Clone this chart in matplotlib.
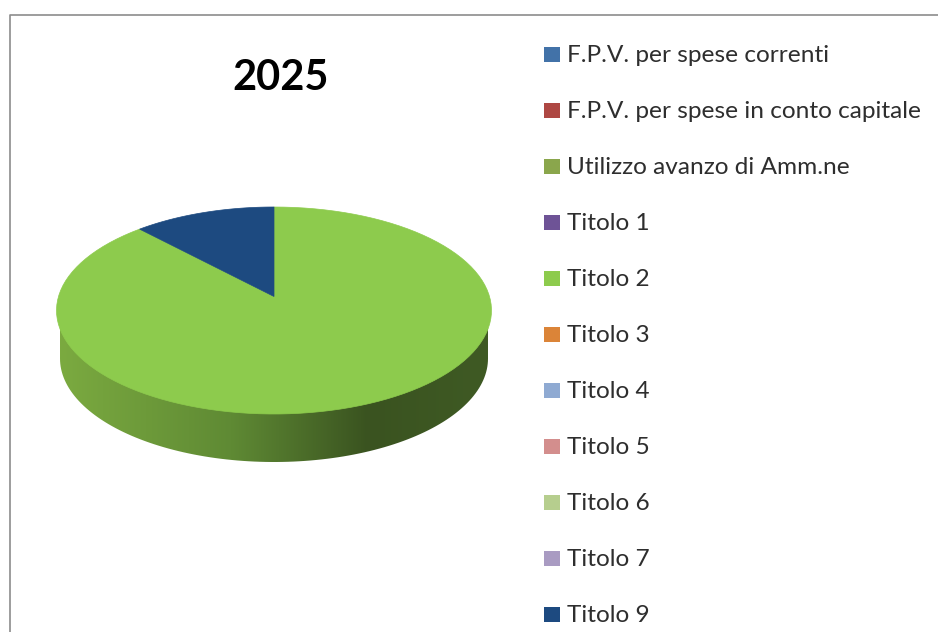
"""Flat recreation of a spreadsheet 3D pie chart, drawn in pixel coordinates."""

import numpy as np
import matplotlib
matplotlib.use("Agg")
import matplotlib.pyplot as plt
from matplotlib.colors import LinearSegmentedColormap
from matplotlib.patches import PathPatch, Polygon, Rectangle
from matplotlib.path import Path

TITLE = "2025"
categories = [
    "F.P.V. per spese correnti",
    "F.P.V. per spese in conto capitale",
    "Utilizzo avanzo di Amm.ne",
    "Titolo 1",
    "Titolo 2",
    "Titolo 3",
    "Titolo 4",
    "Titolo 5",
    "Titolo 6",
    "Titolo 7",
    "Titolo 9",
]
values = [0, 0, 0, 0, 89.4, 0, 0, 0, 0, 0, 10.6]
colors = [
    "#4272A8", "#AE4743", "#8AA64C", "#6E5396", "#8DCB4D", "#DB8438",
    "#8FAAD2", "#D38E8D", "#B6CE8E", "#A99BC2", "#1D4A80",
]

# Pie geometry in image pixels
CX, CY, RX, RY = 274, 310.5, 217.5, 103.5
APEX = (274, 296.5)
BOTTOM_CY, BOTTOM_RX = 358.5, 214


def arc(start, stop, cx=CX, cy=CY, rx=RX, ry=RY, n=120):
    """Points on an ellipse, angles in degrees clockwise from 12 o'clock."""
    t = np.radians(np.linspace(start, stop, n))
    return np.column_stack([cx + rx * np.sin(t), cy - ry * np.cos(t)])


fig = plt.figure(figsize=(9.38, 6.32), dpi=100, facecolor="white")
ax = fig.add_axes([0, 0, 1, 1])

# --- Side wall with left-to-right shading ---
rim = arc(90, 270, cy=BOTTOM_CY, rx=BOTTOM_RX)
top_y = CY + RY * np.sqrt(1 - (BOTTOM_RX / RX) ** 2)
side = np.vstack([[CX + BOTTOM_RX, top_y], rim, [CX - BOTTOM_RX, top_y]])
side_patch = PathPatch(Path(side), facecolor="none", edgecolor="none")
ax.add_patch(side_patch)
shade = LinearSegmentedColormap.from_list(
    "side", [(0, "#7BAA40"), (0.4, "#5F8A34"), (0.72, "#3A5320"), (1, "#3F5A24")]
)
img = ax.imshow(
    np.linspace(0, 1, 256)[None, :], cmap=shade, aspect="auto",
    extent=(CX - BOTTOM_RX, CX + BOTTOM_RX, 480, 300), zorder=1,
)
img.set_clip_path(side_patch)

# --- Top face: slices run clockwise from 12 o'clock ---
start = 0.0
for value, color in zip(values, colors):
    if value == 0:
        continue
    stop = start + 360 * value / sum(values)
    ax.add_patch(Polygon(np.vstack([APEX, arc(start, stop)]), closed=True,
                         facecolor=color, edgecolor=color, linewidth=0.5, zorder=2))
    start = stop

ax.text(281, 78, TITLE, fontsize=30, fontweight="bold", family="Lato",
        color="black", ha="center", va="center")

# --- Legend ---
for i, (label, color) in enumerate(zip(categories, colors)):
    y = 54.5 + 56 * i
    ax.add_patch(Rectangle((544, y - 7.5), 16, 15, facecolor=color, edgecolor="none"))
    ax.text(567, y + 1, label, fontsize=17.6, family="Lato", color="#2E2E2E",
            ha="left", va="center")

# --- Chart frame, cropped on the right and bottom by the image edge ---
ax.plot([10, 10, 938], [632, 14.5, 14.5], color="#8C8C8C", linewidth=1.2)

ax.set_xlim(0, 938)
ax.set_ylim(632, 0)
ax.axis("off")

fig.savefig("out.png", dpi=100)
